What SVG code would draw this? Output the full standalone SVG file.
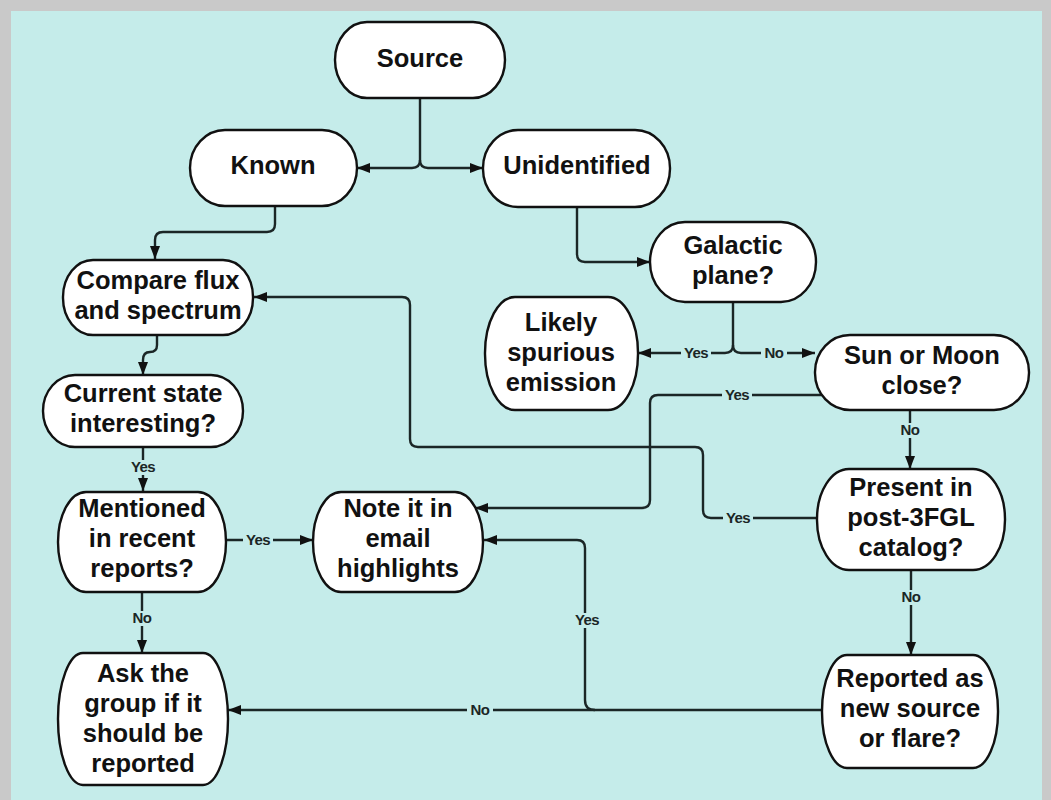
<svg xmlns="http://www.w3.org/2000/svg" width="1051" height="800" viewBox="0 0 1051 800">
<style>
.node rect{fill:#ffffff;stroke:#111;stroke-width:2.4}
.node text{font-family:"Liberation Sans",Arial,sans-serif;font-weight:bold;font-size:25.5px;fill:#111;text-anchor:middle}
.conn path{fill:none;stroke:#1b2626;stroke-width:2.4}
.lbl rect{fill:#c5ecea}
.lbl text{font-family:"Liberation Sans",Arial,sans-serif;font-weight:bold;font-size:15px;fill:#1b2626;text-anchor:middle;letter-spacing:-0.6px}
</style>
<defs>
<marker id="ah" viewBox="0 0 13 10" refX="13" refY="5" markerWidth="13" markerHeight="10" markerUnits="userSpaceOnUse" orient="auto">
<path d="M0,0 L13,5 L0,10 Z" fill="#111"/>
</marker>
</defs>
<rect x="0" y="0" width="1051" height="800" fill="#c9c9c9"/>
<rect x="11" y="11" width="1031" height="789" fill="#c5ecea"/>

<g class="conn" id="connectors">
<path d="M420,98 V160 Q420,168 412,168 H357" marker-end="url(#ah)"/>
<path d="M420,160 Q420,168 428,168 H483" marker-end="url(#ah)"/>
<path d="M275,206 V224 Q275,232 267,232 H163 Q155,232 155,240 V259" marker-end="url(#ah)"/>
<path d="M577,207 V254 Q577,262 585,262 H650" marker-end="url(#ah)"/>
<path d="M733,302 V345 Q733,353 725,353 H638" marker-end="url(#ah)"/>
<path d="M733,345 Q733,353 741,353 H815" marker-end="url(#ah)"/>
<path d="M157,335 V345 Q157,352 150,352 Q143,352 143,360 V375" marker-end="url(#ah)"/>
<path d="M143,447 V491" marker-end="url(#ah)"/>
<path d="M226,540 H313" marker-end="url(#ah)"/>
<path d="M142,592 V653" marker-end="url(#ah)"/>
<path d="M823,395 H658 Q650,395 650,403 V500 Q650,508 642,508 H475" marker-end="url(#ah)"/>
<path d="M910,410 V469" marker-end="url(#ah)"/>
<path d="M817,518 H711 Q703,518 703,510 V455 Q703,447 695,447 H418 Q410,447 410,439 V305 Q410,297 402,297 H254" marker-end="url(#ah)"/>
<path d="M911,570 V655" marker-end="url(#ah)"/>
<path d="M823,710 H228" marker-end="url(#ah)"/>
<path d="M595,710 Q585,710 585,700 V548 Q585,540 577,540 H484" marker-end="url(#ah)"/>
</g>

<g class="lbl" id="labels">
<rect x="681" y="346" width="30" height="15"/><text x="696" y="358">Yes</text>
<rect x="761" y="346" width="26" height="15"/><text x="774" y="358">No</text>
<rect x="722" y="388" width="30" height="15"/><text x="737" y="400">Yes</text>
<rect x="128" y="460" width="30" height="15"/><text x="143" y="472">Yes</text>
<rect x="243" y="533" width="30" height="15"/><text x="258" y="545">Yes</text>
<rect x="129" y="611" width="26" height="15"/><text x="142" y="623">No</text>
<rect x="897" y="423" width="26" height="15"/><text x="910" y="435">No</text>
<rect x="723" y="511" width="30" height="15"/><text x="738" y="523">Yes</text>
<rect x="898" y="590" width="26" height="15"/><text x="911" y="602">No</text>
<rect x="467" y="703" width="26" height="15"/><text x="480" y="715">No</text>
<rect x="572" y="613" width="30" height="15"/><text x="587" y="625">Yes</text>
</g>

<g class="node" id="n-source"><rect x="335" y="22" width="170" height="76" rx="32" ry="38"/><text x="420" y="67">Source</text></g>
<g class="node" id="n-known"><rect x="190" y="130" width="167" height="76" rx="35" ry="38"/><text x="273" y="174">Known</text></g>
<g class="node" id="n-unidentified"><rect x="483" y="130" width="187" height="77" rx="35" ry="38"/><text x="577" y="174">Unidentified</text></g>
<g class="node" id="n-galactic"><rect x="650" y="222" width="166" height="80" rx="35" ry="40"/><text x="733" y="254">Galactic</text><text x="733" y="284">plane?</text></g>
<g class="node" id="n-compare"><rect x="63" y="260" width="190" height="75" rx="30" ry="37"/><text x="158" y="289">Compare flux</text><text x="158" y="319">and spectrum</text></g>
<g class="node" id="n-likely"><rect x="485" y="297" width="153" height="113" rx="30" ry="56"/><text x="561" y="331">Likely</text><text x="561" y="361">spurious</text><text x="561" y="391">emission</text></g>
<g class="node" id="n-sun"><rect x="815" y="335" width="214" height="75" rx="35" ry="37"/><text x="922" y="364">Sun or Moon</text><text x="922" y="394">close?</text></g>
<g class="node" id="n-current"><rect x="43" y="375" width="200" height="72" rx="32" ry="36"/><text x="143" y="402">Current state</text><text x="143" y="432">interesting?</text></g>
<g class="node" id="n-mentioned"><rect x="58" y="492" width="168" height="100" rx="28" ry="50"/><text x="142" y="517">Mentioned</text><text x="142" y="547">in recent</text><text x="142" y="577">reports?</text></g>
<g class="node" id="n-note"><rect x="313" y="492" width="170" height="100" rx="28" ry="50"/><text x="398" y="517">Note it in</text><text x="398" y="547">email</text><text x="398" y="577">highlights</text></g>
<g class="node" id="n-present"><rect x="817" y="469" width="188" height="101" rx="32" ry="50"/><text x="911" y="496">Present in</text><text x="911" y="526">post-3FGL</text><text x="911" y="556">catalog?</text></g>
<g class="node" id="n-ask"><rect x="58" y="653" width="170" height="132" rx="25" ry="66"/><text x="143" y="682">Ask the</text><text x="143" y="712">group if it</text><text x="143" y="742">should be</text><text x="143" y="772">reported</text></g>
<g class="node" id="n-reported"><rect x="822" y="655" width="176" height="113" rx="25" ry="56"/><text x="910" y="687">Reported as</text><text x="910" y="717">new source</text><text x="910" y="747">or flare?</text></g>
</svg>
